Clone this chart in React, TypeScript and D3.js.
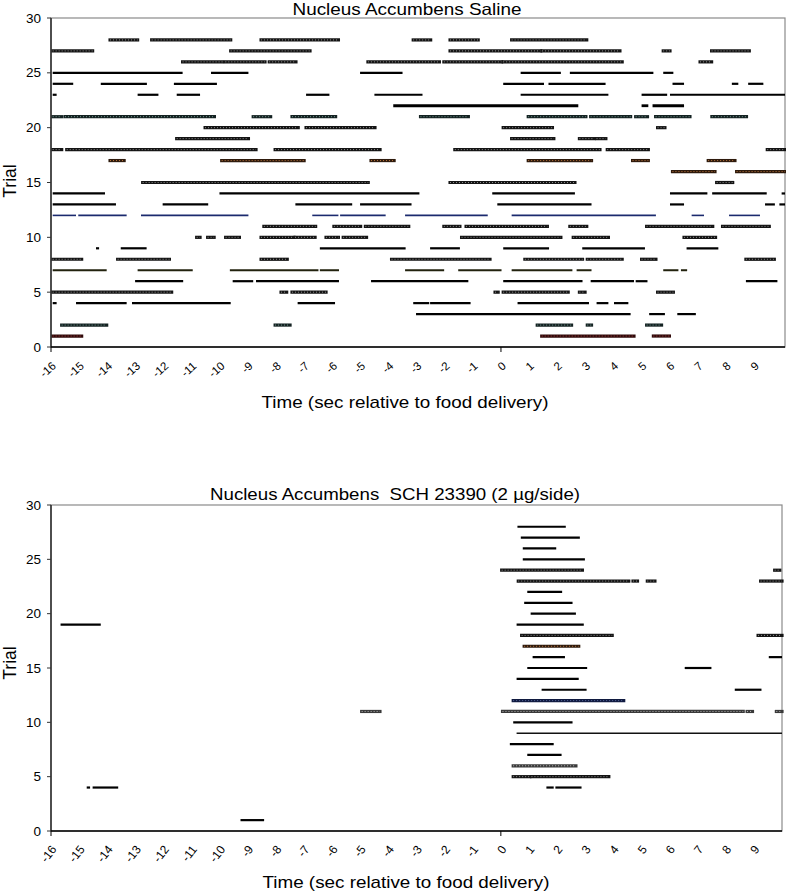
import React from 'react';
import * as d3 from 'd3';

// ---------- data ----------
const xTickValues = [-16, -15, -14, -13, -12, -11, -10, -9, -8, -7, -6, -5, -4, -3, -2, -1, 0, 1, 2, 3, 4, 5, 6, 7, 8, 9];
const xMajorTicks = [-16, 0];
const yTickValues = [0, 5, 10, 15, 20, 25, 30];

type Seg = [number, number, number]; // [trial, start sec, end sec]

const salineSegments: Seg[] = [
  [28, -13.9, -12.92], [28, -12.42, -9.61], [28, -8.53, -5.78], [28, -3.12, -2.5], [28, -1.81, -0.81], [28, 0.38, 3.05],
  [27, -15.94, -14.52], [27, -9.61, -6.79], [27, -1.81, 1.41], [27, 1.46, 4.23], [27, 5.77, 6.01], [27, 7.49, 8.83],
  [26, -11.32, -9.9], [26, -9.8, -8.39], [26, -8.24, -7.29], [26, -4.73, -2.19], [26, -2.03, 0.02], [26, 0.08, 4.31], [26, 7.08, 7.49],
  [25, -15.94, -11.32], [25, -10.31, -8.98], [25, -5.01, -3.5], [25, 0.7, 2.13], [25, 2.45, 5.42], [25, 5.77, 6.13],
  [24, -15.94, -15.21], [24, -14.23, -12.59], [24, -11.63, -10.1], [24, 0.08, 1.53], [24, 1.69, 3.72], [24, 6.1, 6.51], [24, 8.21, 8.44], [24, 8.79, 9.33],
  [23, -15.94, -15.8], [23, -12.92, -12.18], [23, -11.53, -10.7], [23, -6.93, -6.1], [23, -4.5, -2.79], [23, 0.7, 3.82], [23, 5.0, 5.91], [23, 6.01, 10.1],
  [22, -3.83, 2.75], [22, 5.0, 5.24], [22, 5.39, 6.51],
  [21, -15.94, -15.62], [21, -15.5, -10.19], [21, -8.81, -8.19], [21, -7.43, -5.88], [21, -2.86, -1.16], [21, 0.97, 3.02], [21, 3.19, 4.61], [21, 4.79, 5.21], [21, 5.5, 6.72], [21, 7.5, 8.73],
  [20, -10.52, -7.21], [20, -6.93, -4.48], [20, 0.08, 1.83], [20, 5.57, 5.83],
  [19, -11.53, -8.98], [19, 0.38, 1.88], [19, 2.79, 3.31], [19, 3.4, 3.73],
  [18, -15.94, -15.62], [18, -15.44, -8.71], [18, -8.03, -4.3], [18, -1.64, 3.52], [18, 3.78, 5.24], [18, 9.47, 10.1],
  [17, -13.9, -13.4], [17, -9.93, -7.0], [17, -4.62, -3.8], [17, 0.97, 3.22], [17, 4.68, 5.24], [17, 7.37, 8.32],
  [16, 6.1, 7.61], [16, 8.38, 10.1],
  [15, -12.74, -4.72], [15, -1.81, 2.63], [15, 7.67, 8.24],
  [14, -15.94, -14.08], [14, -10.01, -2.9], [14, -0.31, 2.63], [14, 6.01, 7.34], [14, 7.51, 9.45], [14, 9.98, 10.1],
  [13, -15.94, -13.69], [13, -12.03, -10.41], [13, -7.31, -5.29], [13, -5.01, -3.18], [13, -0.13, 3.22], [13, 6.01, 6.51], [13, 9.39, 9.74], [13, 9.9, 10.1],
  [12, -15.94, -15.11], [12, -15.03, -13.31], [12, -12.8, -8.98], [12, -6.71, -5.78], [12, -5.72, -4.1], [12, -3.41, -0.47], [12, 0.38, 5.51], [12, 6.78, 7.22], [12, 8.11, 9.21],
  [11, -8.43, -6.59], [11, -5.94, -4.99], [11, -4.82, -3.28], [11, -2.03, -1.46], [11, -1.24, 1.65], [11, 2.45, 3.05], [11, 5.18, 7.53], [11, 7.88, 9.54],
  [10, -10.82, -10.7], [10, -10.43, -10.2], [10, -9.79, -9.3], [10, -8.53, -7.36], [10, -7.32, -6.61], [10, -6.22, -5.78], [10, -5.61, -4.78], [10, -1.4, 2.13], [10, 2.57, 3.82], [10, 6.51, 7.63],
  [9, -14.4, -14.29], [9, -13.52, -12.6], [9, -6.44, -3.39], [9, -2.52, -1.46], [9, 0.08, 1.71], [9, 2.89, 5.12], [9, 6.6, 7.73],
  [8, -15.94, -14.91], [8, -13.63, -11.79], [8, -8.53, -7.6], [8, -3.89, -0.39], [8, 0.85, 2.9], [8, 3.07, 4.31], [8, 5.0, 5.51], [8, 8.71, 9.72],
  [7, -15.94, -14.02], [7, -12.92, -10.96], [7, -9.64, -6.49], [7, -6.44, -5.76], [7, -3.41, -2.02], [7, -1.52, 0.02], [7, 0.38, 2.54], [7, 2.69, 3.22], [7, 5.77, 6.31], [7, 6.4, 6.62],
  [6, -13.01, -11.3], [6, -9.54, -8.81], [6, -8.71, -5.76], [6, -4.62, -1.16], [6, 0.08, 2.9], [6, 3.19, 4.73], [6, 4.79, 5.21], [6, 8.71, 9.83],
  [5, -15.94, -11.71], [5, -7.82, -7.62], [5, -7.43, -6.22], [5, -0.21, -0.1], [5, 0.08, 2.39], [5, 2.79, 2.99], [5, 5.57, 6.13],
  [4, -15.94, -15.8], [4, -15.11, -13.31], [4, -13.12, -9.61], [4, -7.23, -5.9], [4, -3.12, -2.55], [4, -2.52, -1.08], [4, 0.59, 3.13], [4, 3.4, 3.82], [4, 4.02, 4.53],
  [3, -3.02, 4.61], [3, 5.27, 5.83], [3, 6.27, 6.93],
  [2, -15.62, -14.02], [2, -8.03, -7.5], [2, 1.29, 2.51], [2, 3.07, 3.22], [2, 5.18, 5.71],
  [1, -15.94, -14.91], [1, 1.45, 4.73], [1, 5.42, 5.99],
];

const salineStyles: Record<number, string> = {
  28: 'dots', 27: 'dots', 26: 'dots', 25: 'solid', 24: 'solid', 23: 'solid', 22: 'thick', 21: 'dotsTeal',
  20: 'dots', 19: 'dots', 18: 'dots', 17: 'dotsOrange', 16: 'dotsOrange', 15: 'dots', 14: 'solid', 13: 'solid',
  12: 'blue', 11: 'dots', 10: 'dots', 9: 'solid', 8: 'dots', 7: 'olive', 6: 'solid', 5: 'dots', 4: 'solid',
  3: 'solid', 2: 'dotsTeal', 1: 'dotsRed',
};

const schSegments: Seg[] = [
  [28, 0.59, 2.31], [27, 0.71, 2.81], [26, 0.78, 1.97], [25, 0.78, 2.99],
  [24, 0.03, 2.9], [24, 9.74, 9.92],
  [23, 0.62, 4.55], [23, 4.7, 4.86], [23, 5.21, 5.48], [23, 9.24, 10],
  [22, 0.94, 2.18], [21, 0.83, 2.55], [20, 1.06, 2.67],
  [19, -15.66, -14.23], [19, 0.56, 2.95],
  [18, 0.74, 3.96], [18, 9.15, 10],
  [17, 0.83, 2.77],
  [16, 1.13, 2.28], [16, 9.53, 10],
  [15, 0.94, 3.07], [15, 6.54, 7.49],
  [14, 0.56, 2.77],
  [13, 1.45, 3.05], [13, 8.32, 9.27],
  [12, 0.44, 4.37],
  [11, -4.95, -4.3], [11, 0.06, 8.62], [11, 8.76, 8.95], [11, 9.8, 10],
  [10, 0.44, 2.55],
  [9, 0.56, 10],
  [8, 0.32, 1.88], [7, 0.94, 2.16], [6, 0.44, 2.67],
  [5, 0.44, 1.03], [5, 1.09, 3.84],
  [4, -14.73, -14.61], [4, -14.52, -13.61], [4, 1.62, 1.88], [4, 1.94, 2.87],
  [1, -9.26, -8.42],
];

const schStyles: Record<number, string> = {
  28: 'solid', 27: 'solid', 26: 'solid', 25: 'solid', 24: 'dots', 23: 'dots', 22: 'solid', 21: 'solid',
  20: 'solid', 19: 'solid', 18: 'dots', 17: 'dotsOrange', 16: 'solid', 15: 'solid', 14: 'solid', 13: 'solid',
  12: 'dotsBlue', 11: 'dotsLight', 10: 'solid', 9: 'thin', 8: 'solid', 7: 'solid', 6: 'dotsLight', 5: 'dots',
  4: 'solid', 1: 'solid',
};

const STYLE_DEFS: Record<string, { base: string; width: number; light?: string }> = {
  solid: { base: '#000', width: 2.2 },
  thick: { base: '#000', width: 2.8 },
  thin: { base: '#111', width: 1.4 },
  blue: { base: '#1b2a6e', width: 1.6 },
  olive: { base: '#22220e', width: 2.0 },
  dots: { base: '#141414', width: 3.2, light: '#a8a8a8' },
  dotsTeal: { base: '#142222', width: 3.2, light: '#88b0a6' },
  dotsOrange: { base: '#2e1a0c', width: 3.2, light: '#d98a4a' },
  dotsRed: { base: '#300a0a', width: 3.2, light: '#b84c4c' },
  dotsBlue: { base: '#101a40', width: 3.2, light: '#6a7ab0' },
  dotsLight: { base: '#3a3a3a', width: 3.2, light: '#d4d4d4' },
};

const FONT = "'Liberation Sans', Arial, sans-serif";

type ChartProps = {
  title: string;
  titleX: number;
  titleY: number;
  titleWidth: number;
  segments: Seg[];
  styles: Record<number, string>;
  left: number;
  right: number;
  top: number;
  bottom: number;
  xMax: number;
  labelY: number;
  labelAngle: number;
  labelSize: number;
  xTitleX: number;
  xTitleY: number;
  yTitleY: number;
};

function RasterChart(p: ChartProps) {
  const x = d3.scaleLinear().domain([-16, p.xMax]).range([p.left, p.right]);
  const y = d3.scaleLinear().domain([0, 30]).range([p.bottom, p.top]);
  return (
    <g>
      <text x={p.titleX} y={p.titleY} textAnchor="middle" dominantBaseline="central" fontFamily={FONT}
        fontSize={16.5} textLength={p.titleWidth} lengthAdjust="spacingAndGlyphs" style={{ whiteSpace: 'pre' }} fill="#000">
        {p.title}
      </text>
      <rect x={p.left} y={p.top} width={p.right - p.left} height={p.bottom - p.top} fill="#fff" stroke="#8a8a8a" strokeWidth={1.2} />
      {p.segments.map((s, i) => {
        const st = STYLE_DEFS[p.styles[s[0]] || 'solid'];
        const x1 = x(Math.max(-16, s[1]));
        const x2 = x(Math.min(p.xMax, s[2]));
        const yy = y(s[0]);
        return (
          <g key={i}>
            <line x1={x1} x2={x2} y1={yy} y2={yy} stroke={st.base} strokeWidth={st.width} strokeLinecap={st.light ? 'square' : 'butt'} />
            {st.light && (
              <line x1={x1} x2={x2} y1={yy} y2={yy} stroke={st.light} strokeWidth={0.9} strokeDasharray="0.9 2.1" />
            )}
          </g>
        );
      })}
      {/* axes */}
      <line x1={p.left} x2={p.left} y1={p.top} y2={p.bottom} stroke="#333" strokeWidth={1.6} />
      <line x1={p.left} x2={p.right} y1={p.bottom} y2={p.bottom} stroke="#000" strokeWidth={1.6} />
      {yTickValues.map((v) => (
        <g key={v}>
          <line x1={p.left - 4} x2={p.left} y1={y(v)} y2={y(v)} stroke="#333" strokeWidth={1} />
          <text x={p.left - 10} y={y(v)} textAnchor="end" dominantBaseline="central" fontFamily={FONT} fontSize={13.5} fill="#000">
            {v}
          </text>
        </g>
      ))}
      {xMajorTicks.map((v) => (
        <line key={v} x1={x(v)} x2={x(v)} y1={p.bottom} y2={p.bottom + 5} stroke="#000" strokeWidth={1} />
      ))}
      {xTickValues.map((v) => (
        <text key={v} transform={`translate(${x(v) + 3},${p.labelY}) rotate(${p.labelAngle})`} textAnchor="end"
          dominantBaseline="central" fontFamily={FONT} fontSize={p.labelSize} fill="#000">
          {v}
        </text>
      ))}
      <text x={p.xTitleX} y={p.xTitleY} textAnchor="middle" dominantBaseline="central" fontFamily={FONT} fontSize={17}
        textLength={287} lengthAdjust="spacingAndGlyphs" fill="#000">
        Time (sec relative to food delivery)
      </text>
      <text transform={`translate(16,${p.yTitleY}) rotate(-90)`} textAnchor="middle" fontFamily={FONT} fontSize={17.5} fill="#000">
        Trial
      </text>
    </g>
  );
}

export default function App() {
  return (
    <svg width={786} height={892} style={{ position: 'absolute', left: 0, top: 0, background: '#fff' }}>
      <rect x={0} y={0} width={786} height={892} fill="#fff" />
      <RasterChart title="Nucleus Accumbens Saline" titleX={407} titleY={8.5} titleWidth={229}
        segments={salineSegments} styles={salineStyles}
        left={51} right={785} top={18} bottom={347} xMax={10.1}
        labelY={364} labelAngle={-42} labelSize={11.5} xTitleX={405} xTitleY={402} yTitleY={181} />
      <RasterChart title="Nucleus Accumbens  SCH 23390 (2 µg/side)" titleX={395} titleY={494} titleWidth={370}
        segments={schSegments} styles={schStyles}
        left={51} right={782} top={505} bottom={831} xMax={10}
        labelY={847} labelAngle={-52} labelSize={12} xTitleX={406} xTitleY={882} yTitleY={663} />
    </svg>
  );
}
